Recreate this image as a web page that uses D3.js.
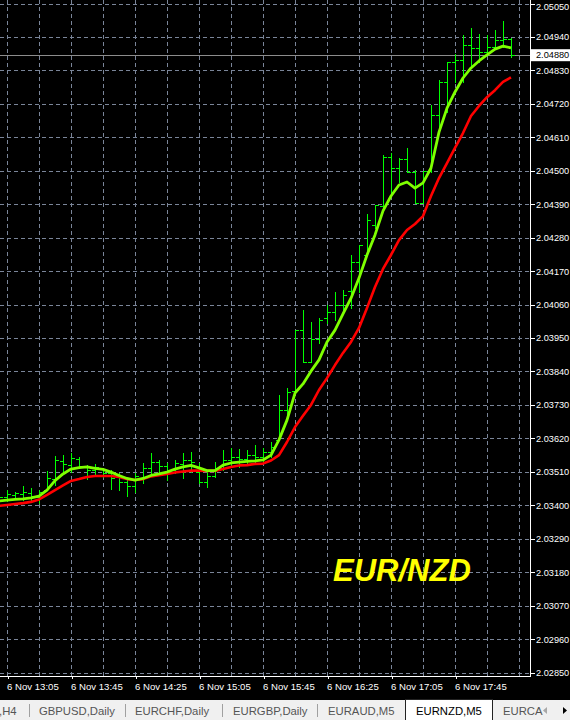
<!DOCTYPE html>
<html><head><meta charset="utf-8">
<script src="https://cdn.jsdelivr.net/npm/d3@7"></script>
<style>html,body{margin:0;padding:0;background:#000;overflow:hidden}svg{display:block}</style>
</head><body><svg id="c" width="570" height="720"></svg>
<script>
// ---------- DATA (EURNZD, M5, 6 Nov) ----------
const barTimes = [
 "13:00","13:05","13:10","13:15","13:20","13:25","13:30","13:35","13:40","13:45","13:50","13:55",
 "14:00","14:05","14:10","14:15","14:20","14:25","14:30","14:35","14:40","14:45","14:50","14:55",
 "15:00","15:05","15:10","15:15","15:20","15:25","15:30","15:35","15:40","15:45","15:50","15:55",
 "16:00","16:05","16:10","16:15","16:20","16:25","16:30","16:35","16:40","16:45","16:50","16:55",
 "17:00","17:05","17:10","17:15","17:20","17:25","17:30","17:35","17:40","17:45","17:50","17:55",
 "18:00","18:05","18:10","18:15","18:20"];
const openP = [2.03420,
 2.03427,2.03434,2.03437,2.03440,2.03427,2.03450,2.03486,2.03546,2.03532,2.03552,
 2.03529,2.03516,2.03523,2.03506,2.03493,2.03476,2.03463,2.03490,2.03523,2.03542,
 2.03529,2.03516,2.03536,2.03549,2.03509,2.03476,2.03496,2.03523,2.03549,2.03559,
 2.03552,2.03565,2.03559,2.03575,2.03615,2.03713,2.03776,2.03976,2.03871,2.03947,
 2.04016,2.04036,2.04059,2.04105,2.04200,2.04223,2.04322,2.04384,2.04545,2.04509,
 2.04539,2.04496,2.04394,2.04499,2.04683,2.04792,2.04858,2.04864,2.04913,2.04904,
 2.04890,2.04907,2.04930,2.04933];
const highP = [2.03440,
 2.03450,2.03444,2.03463,2.03457,2.03450,2.03513,2.03562,2.03565,2.03572,2.03559,
 2.03532,2.03536,2.03523,2.03516,2.03506,2.03490,2.03506,2.03539,2.03572,2.03549,
 2.03539,2.03549,2.03572,2.03575,2.03539,2.03509,2.03542,2.03582,2.03588,2.03585,
 2.03582,2.03598,2.03588,2.03608,2.03762,2.03786,2.03976,2.04042,2.04003,2.04016,
 2.04059,2.04101,2.04108,2.04223,2.04256,2.04358,2.04387,2.04552,2.04558,2.04542,
 2.04575,2.04502,2.04499,2.04716,2.04798,2.04858,2.04884,2.04946,2.04969,2.04950,
 2.04946,2.04963,2.04992,2.04937];
const lowP = [2.03410,
 2.03414,2.03421,2.03417,2.03417,2.03407,2.03450,2.03467,2.03509,2.03509,2.03523,
 2.03486,2.03499,2.03493,2.03453,2.03450,2.03430,2.03444,2.03473,2.03499,2.03509,
 2.03483,2.03506,2.03490,2.03509,2.03473,2.03460,2.03493,2.03516,2.03532,2.03526,
 2.03532,2.03539,2.03542,2.03559,2.03615,2.03697,2.03776,2.03871,2.03871,2.03934,
 2.03999,2.04009,2.04042,2.04049,2.04101,2.04223,2.04312,2.04377,2.04427,2.04463,
 2.04496,2.04394,2.04394,2.04496,2.04624,2.04693,2.04792,2.04792,2.04838,2.04858,
 2.04881,2.04907,2.04907,2.04874];
const closeP = [2.03427,
 2.03437,2.03440,2.03444,2.03430,2.03444,2.03490,2.03549,2.03536,2.03555,2.03529,
 2.03516,2.03526,2.03506,2.03490,2.03476,2.03463,2.03496,2.03523,2.03542,2.03529,
 2.03516,2.03539,2.03549,2.03542,2.03476,2.03496,2.03523,2.03549,2.03559,2.03552,
 2.03565,2.03559,2.03575,2.03592,2.03713,2.03772,2.03976,2.03871,2.03947,2.04009,
 2.04036,2.04059,2.04091,2.04200,2.04256,2.04338,2.04387,2.04545,2.04509,2.04539,
 2.04496,2.04394,2.04499,2.04683,2.04792,2.04858,2.04864,2.04913,2.04904,2.04890,
 2.04907,2.04930,2.04933,2.04880];
const maFast = [2.03414,
 2.03417,2.03419,2.03421,2.03424,2.03430,2.03450,2.03481,2.03503,2.03519,2.03524,
 2.03526,2.03521,2.03518,2.03509,2.03498,2.03488,2.03483,2.03488,2.03498,2.03503,
 2.03509,2.03519,2.03526,2.03531,2.03523,2.03514,2.03514,2.03532,2.03539,2.03542,
 2.03544,2.03546,2.03549,2.03565,2.03615,2.03680,2.03769,2.03799,2.03841,2.03878,
 2.03937,2.03976,2.04029,2.04081,2.04147,2.04223,2.04289,2.04368,2.04417,2.04453,
 2.04463,2.04443,2.04460,2.04509,2.04627,2.04706,2.04759,2.04805,2.04838,2.04861,
 2.04881,2.04900,2.04910,2.04904];
const maSlow = [2.03398,
 2.03401,2.03404,2.03407,2.03411,2.03419,2.03434,2.03450,2.03465,2.03480,2.03486,
 2.03493,2.03496,2.03496,2.03496,2.03493,2.03486,2.03483,2.03486,2.03495,2.03499,
 2.03503,2.03508,2.03511,2.03514,2.03514,2.03513,2.03513,2.03519,2.03526,2.03531,
 2.03532,2.03536,2.03537,2.03547,2.03565,2.03608,2.03657,2.03694,2.03730,2.03779,
 2.03818,2.03861,2.03901,2.03937,2.03983,2.04049,2.04118,2.04177,2.04223,2.04272,
 2.04305,2.04325,2.04351,2.04417,2.04476,2.04525,2.04575,2.04624,2.04680,2.04713,
 2.04742,2.04765,2.04792,2.04807];
const priceTicks = [2.02850,2.02960,2.03070,2.03180,2.03290,2.03400,2.03510,2.03620,2.03730,
 2.03840,2.03950,2.04060,2.04170,2.04280,2.04390,2.04500,2.04610,2.04720,2.04830,2.04940,2.05050];
const timeTickTimes = ["13:05","13:45","14:25","15:05","15:45","16:25","17:05","17:45"];
const dateLabel = "6 Nov";
const currentPrice = 2.04880;
const symbolLabel = "EUR/NZD";
const tabNames = [",H4","GBPUSD,Daily","EURCHF,Daily","EURGBP,Daily","EURAUD,M5","EURNZD,M5","EURCA"];
const activeTab = "EURNZD,M5";

// ---------- LAYOUT ----------
const W = 570, H = 720, plotR = 530, plotB = 676;
const svg = d3.select("#c");
svg.append("rect").attr("width", W).attr("height", H).attr("fill", "#000");

const n = barTimes.length;
const x = d3.scaleLinear().domain([0.125, 66.375]).range([0, plotR]);
const y = d3.scaleLinear().domain([2.02850, 2.05050]).range([672.5, 3.5]);

svg.append("defs").append("clipPath").attr("id", "plot")
  .append("rect").attr("x", 0).attr("y", 0).attr("width", plotR).attr("height", plotB);

const gridColor = "#7a8599";
svg.append("g").selectAll("line").data(priceTicks).join("line")
  .attr("x1", 0).attr("x2", plotR)
  .attr("y1", d => Math.round(y(d)) + 0.5).attr("y2", d => Math.round(y(d)) + 0.5)
  .attr("stroke", gridColor).attr("stroke-width", 1).attr("stroke-dasharray", "4,3");
const vIdx = d3.range(barTimes.indexOf("13:05"), 67, 4);
svg.append("g").selectAll("line").data(vIdx).join("line")
  .attr("x1", d => Math.round(x(d)) + 0.5).attr("x2", d => Math.round(x(d)) + 0.5)
  .attr("y1", 0).attr("y2", plotB)
  .attr("stroke", gridColor).attr("stroke-width", 1).attr("stroke-dasharray", "4,3");

svg.append("line").attr("x1", 0).attr("x2", plotR)
  .attr("y1", Math.round(y(currentPrice)) + 0.5).attr("y2", Math.round(y(currentPrice)) + 0.5)
  .attr("stroke", "#8c8c8c").attr("stroke-width", 1);

const plot = svg.append("g").attr("clip-path", "url(#plot)");

const bars = d3.range(n).map(i => ({i, o: openP[i], h: highP[i], l: lowP[i], c: closeP[i]}));
const barColor = "#00ff00";
const bg = plot.append("g").attr("stroke", barColor).attr("stroke-width", 1).attr("shape-rendering", "crispEdges");
bg.selectAll("line.hl").data(bars).join("line").attr("class", "hl")
  .attr("x1", d => Math.round(x(d.i)) + 0.5).attr("x2", d => Math.round(x(d.i)) + 0.5)
  .attr("y1", d => Math.round(y(d.h))).attr("y2", d => Math.round(y(d.l)) + 1);
bg.selectAll("line.o").data(bars).join("line").attr("class", "o")
  .attr("x1", d => Math.round(x(d.i)) - 3).attr("x2", d => Math.round(x(d.i)))
  .attr("y1", d => Math.round(y(d.o)) + 0.5).attr("y2", d => Math.round(y(d.o)) + 0.5);
bg.selectAll("line.c").data(bars).join("line").attr("class", "c")
  .attr("x1", d => Math.round(x(d.i)) + 1).attr("x2", d => Math.round(x(d.i)) + 4)
  .attr("y1", d => Math.round(y(d.c)) + 0.5).attr("y2", d => Math.round(y(d.c)) + 0.5);

const line = d3.line().x((d, i) => x(i)).y(d => y(d));
plot.append("path").datum(maSlow).attr("d", line)
  .attr("fill", "none").attr("stroke", "#ff0000").attr("stroke-width", 2.6).attr("stroke-linejoin", "round");
plot.append("path").datum(maFast).attr("d", line)
  .attr("fill", "none").attr("stroke", "#7fff00").attr("stroke-width", 2.8).attr("stroke-linejoin", "round");

svg.append("line").attr("x1", plotR + 0.5).attr("x2", plotR + 0.5).attr("y1", 0).attr("y2", plotB + 1)
  .attr("stroke", "#fff").attr("stroke-width", 1);
svg.append("line").attr("x1", 0).attr("x2", plotR + 1).attr("y1", plotB + 0.5).attr("y2", plotB + 0.5)
  .attr("stroke", "#fff").attr("stroke-width", 1);

const fontAxis = "'Liberation Sans', Arial, sans-serif";
const yAxis = d3.axisRight(y).tickValues(priceTicks).tickFormat(d3.format(".5f")).tickSize(4).tickPadding(1.5);
const ga = svg.append("g").attr("transform", `translate(${plotR + 0.5},0)`).call(yAxis);
ga.select(".domain").remove();
ga.selectAll(".tick line").attr("stroke", "#fff").attr("shape-rendering", "crispEdges");
ga.selectAll(".tick text").attr("fill", "#fff").attr("font-family", fontAxis).attr("font-size", "9.2px")
  .attr("dy", d => d === priceTicks[priceTicks.length - 1] ? "0.6em" : "0.32em");

const cp = svg.append("g").attr("transform", `translate(${plotR + 1},${y(currentPrice)})`);
cp.append("rect").attr("x", 0).attr("y", -6).attr("width", W - plotR - 1).attr("height", 12).attr("fill", "#fff");
cp.append("text").attr("x", 5).attr("dy", "0.32em").attr("fill", "#000")
  .attr("font-family", fontAxis).attr("font-size", "9.2px").text(d3.format(".5f")(currentPrice));

const tIdx = timeTickTimes.map(t => barTimes.indexOf(t));
const xAxis = d3.axisBottom(x).tickValues(tIdx).tickFormat(i => `${dateLabel} ${barTimes[i]}`).tickSize(3).tickPadding(0);
const gx = svg.append("g").attr("transform", `translate(0.5,${plotB})`).call(xAxis);
gx.select(".domain").remove();
gx.selectAll(".tick line").attr("stroke", "#fff").attr("shape-rendering", "crispEdges");
gx.selectAll(".tick text").attr("fill", "#fff").attr("font-family", fontAxis).attr("font-size", "9.6px")
  .attr("text-anchor", "start").attr("x", -1).attr("y", 14).attr("dy", 0);

svg.append("text").attr("x", 333).attr("y", 581).attr("fill", "#ffff00")
  .attr("font-family", "'Liberation Sans', Arial, sans-serif").attr("font-weight", "bold")
  .attr("font-style", "italic").attr("font-size", "31px").text(symbolLabel);

const tb = svg.append("g").attr("transform", "translate(0,700)");
tb.append("rect").attr("width", W).attr("height", 20).attr("fill", "#f0f0f0");
const tabX = [-1, 39, 135, 233, 328, 416, 503];
const sepX = [29, 125, 222, 317];
tb.append("rect").attr("x", 405.5).attr("y", -0.5).attr("width", 87).attr("height", 22)
  .attr("fill", "#fff").attr("stroke", "#222").attr("stroke-width", 1);
tb.selectAll("line.sep").data(sepX).join("line").attr("class", "sep")
  .attr("x1", d => d + 0.5).attr("x2", d => d + 0.5).attr("y1", 4).attr("y2", 17)
  .attr("stroke", "#a0a0a0").attr("shape-rendering", "crispEdges");
tb.selectAll("text.tab").data(tabNames).join("text").attr("class", "tab")
  .attr("x", (d, i) => tabX[i]).attr("y", 14.5)
  .attr("fill", d => d === activeTab ? "#000" : "#555")
  .attr("font-family", "'Liberation Sans', Arial, sans-serif").attr("font-size", "11.3px").text(d => d);
tb.append("path").attr("d", "M547,7 L543,10.5 L547,14 Z").attr("fill", "#a8a8a8");
tb.append("path").attr("d", "M563,7 L567,10.5 L563,14 Z").attr("fill", "#000");
</script></body></html>
